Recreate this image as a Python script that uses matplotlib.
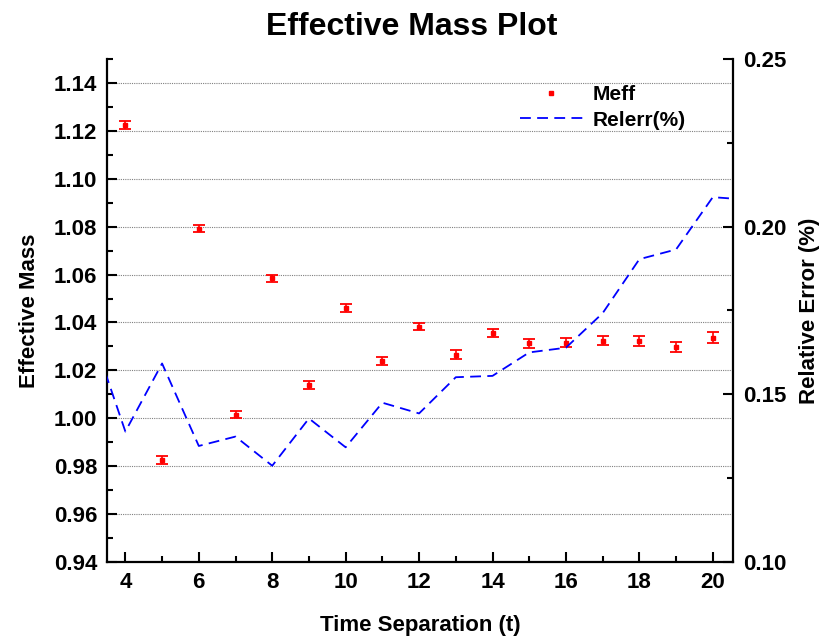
import matplotlib
matplotlib.use("Agg")
import matplotlib.pyplot as plt
from matplotlib.ticker import MultipleLocator, FormatStrFormatter
from matplotlib.lines import Line2D

plt.rcParams['font.family'] = ['Liberation Sans', 'DejaVu Sans']
plt.rcParams['font.weight'] = 'bold'

t = [4, 5, 6, 7, 8, 9, 10, 11, 12, 13, 14, 15, 16, 17, 18, 19, 20]
meff = [1.1225, 0.9826, 1.0792, 1.0015, 1.0584, 1.0139, 1.0462, 1.0238, 1.0383,
        1.0266, 1.0355, 1.0314, 1.0316, 1.0324, 1.0323, 1.0298, 1.0337]
meff_err = [0.0016, 0.0017, 0.0015, 0.0015, 0.0015, 0.0015, 0.0017, 0.0016, 0.0015,
            0.0017, 0.0017, 0.0019, 0.0019, 0.0019, 0.0021, 0.0022, 0.0023]

t_rel = [3, 4, 5, 6, 7, 8, 9, 10, 11, 12, 13, 14, 15, 16, 17, 18, 19, 20, 21]
relerr = [0.171, 0.1389, 0.1592, 0.1346, 0.1374, 0.1287, 0.1428, 0.1342, 0.1475, 0.1443,
          0.1551, 0.1555, 0.1625, 0.1639, 0.1742, 0.1903, 0.1932, 0.2088, 0.2080]

fig = plt.figure(figsize=(8.27, 6.4), dpi=100)
ax = fig.add_axes([0.1294, 0.1219, 0.7569, 0.7859])
ax2 = ax.twinx()

ax.errorbar(t, meff, yerr=meff_err, fmt='s', color='red', ms=3, capsize=4,
            elinewidth=1.2, capthick=1.3, ecolor='red', label='Meff')
ln, = ax2.plot(t_rel, relerr, color='blue', ls=(0, (6, 3.5)), lw=1.3, label='Relerr(%)')

ax.set_xlim(3.5, 20.55)
ax.set_ylim(0.94, 1.15)
ax2.set_ylim(0.10, 0.25)

ax.xaxis.set_major_locator(MultipleLocator(2))
ax.xaxis.set_minor_locator(MultipleLocator(1))
ax.yaxis.set_major_locator(MultipleLocator(0.02))
ax.yaxis.set_minor_locator(MultipleLocator(0.01))
ax2.yaxis.set_major_locator(MultipleLocator(0.05))
ax2.yaxis.set_minor_locator(MultipleLocator(0.025))

ax.yaxis.set_major_formatter(FormatStrFormatter('%.2f'))
ax2.yaxis.set_major_formatter(FormatStrFormatter('%.2f'))

for a in (ax, ax2):
    a.spines['top'].set_visible(False)
    for s in a.spines.values():
        s.set_linewidth(1.6)
ax.spines['right'].set_visible(False)
ax2.spines['left'].set_visible(False)
ax2.spines['bottom'].set_visible(False)

ax.tick_params(axis='both', which='major', direction='in', length=7, width=1.5,
               labelsize=16, pad=7)
ax.tick_params(axis='both', which='minor', direction='in', length=4, width=1.5)
ax.tick_params(axis='y', which='both', left=True, right=False)
ax.tick_params(axis='x', which='both', top=False)
ax2.tick_params(axis='y', which='major', direction='in', length=7, width=1.5,
                labelsize=16, pad=7)
ax2.tick_params(axis='y', which='minor', direction='in', length=4, width=1.5)

for lab in ax.get_xticklabels() + ax.get_yticklabels() + ax2.get_yticklabels():
    lab.set_fontweight('bold')

ax.grid(axis='y', which='major', color='gray', ls=(0, (1, 1)), lw=0.8)
ax.set_axisbelow(True)

ax.set_xlabel('Time Separation (t)', fontsize=16, fontweight='bold', labelpad=16)
ax.set_ylabel('Effective Mass', fontsize=16, fontweight='bold', labelpad=10)
ax2.set_ylabel('Relative Error (%)', fontsize=16, fontweight='bold', labelpad=9)
fig.text(0.498, 0.958, 'Effective Mass Plot', ha='center', va='center',
         fontsize=23, fontweight='bold')

h1 = Line2D([], [], marker='s', ls='none', color='red', ms=3)
ax2.legend([h1, ln], ['Meff', 'Relerr(%)'], loc='upper right',
           bbox_to_anchor=(0.955, 0.985), frameon=False,
           prop={'size': 15, 'weight': 'bold'}, handlelength=3.0,
           handletextpad=0.5, labelspacing=0.3)

fig.savefig('out.png', dpi=100)
